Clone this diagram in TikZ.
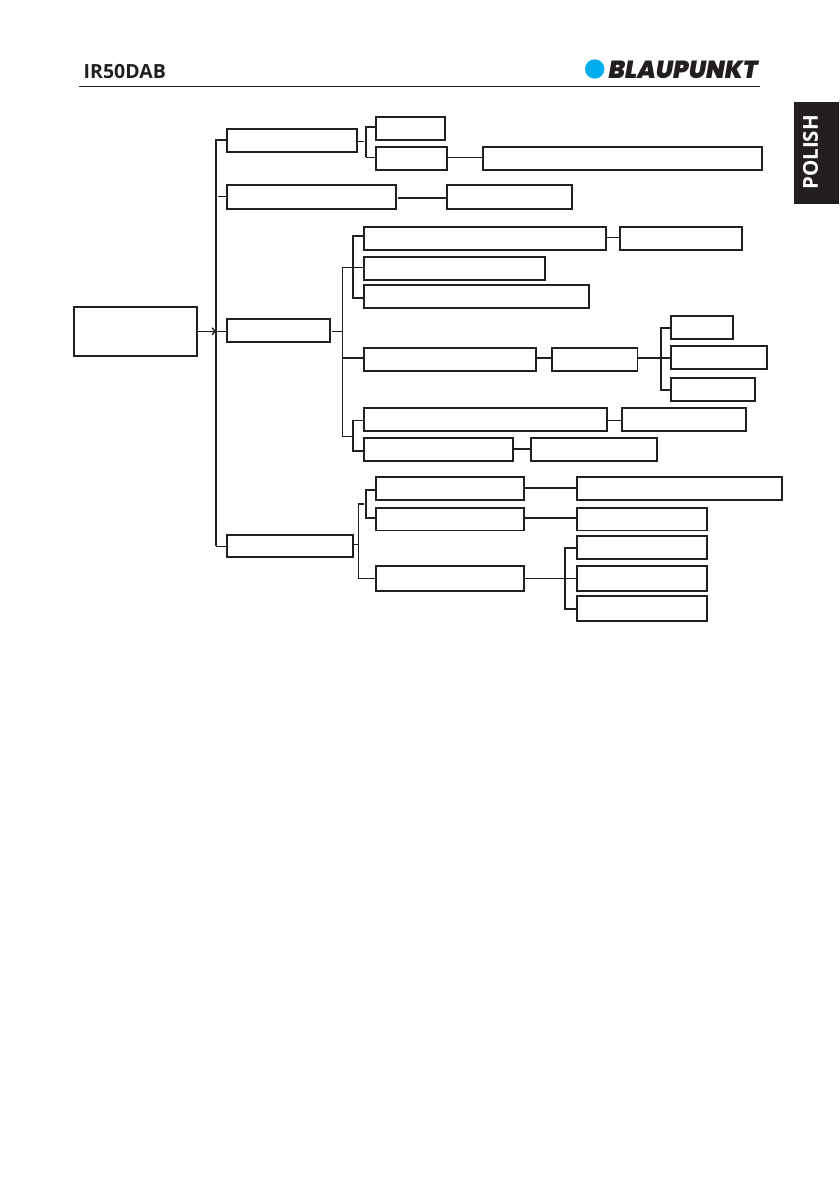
\documentclass[tikz,border=0pt]{standalone}
\usepackage{fontspec}
\setmainfont{Open Sans}
\newfontfamily\logofont{Poppins}[BoldItalicFont={Poppins Black Italic}]
\usetikzlibrary{arrows.meta}
\definecolor{ink}{HTML}{231F20}
\definecolor{logoblue}{HTML}{00AEEF}
\tikzset{
  thk/.style={line width=2pt,draw=ink,line cap=butt},
  mid/.style={line width=1.5pt,draw=ink},
  thn/.style={line width=1pt,draw=ink},
  bx/.style={draw=ink,line width=2pt,inner sep=0pt,outer sep=0pt,fill=white},
  bxl/.style={bx,line width=1.75pt},
}
% \boxn[style]{name}{x1}{y1}{x2}{y2} : centre-line corners, in reference pixels
\newcommand\boxn[6][bx]{\node[#1,minimum width={(#5-#3)*1pt},minimum height={(#6-#4)*1pt}] (#2) at ({(#3+#5)/2},{(#4+#6)/2}) {};}
\begin{document}
\begin{tikzpicture}[x=1pt,y=-1pt]
\useasboundingbox (0,0) rectangle (839,1191);
% header
\node[anchor=west,inner sep=0pt,font=\bfseries\fontsize{19.5}{19.5}\selectfont,text=ink] (model) at (83.5,72) {IR50DAB};
\coordinate (ruleL) at (79,86.3);
\coordinate (ruleR) at (760,86.3);
\draw[thn] (ruleL) -- (ruleR);
\fill[logoblue] (594.7,69) circle (9.7);
\node[anchor=west,inner sep=0pt,text=ink] (brand) at (608.5,69.5) {\resizebox{149pt}{17.5pt}{\logofont\bfseries\itshape BLAUPUNKT}};
\fill[ink] (794,102) rectangle (839,204);
\node[rotate=90,inner sep=0pt,text=white,font=\bfseries\fontsize{20.5}{20.5}\selectfont] (tab) at (810.5,152.5) {POLISH};
% boxes
\boxn{root}{74.3}{307.3}{197}{356}
\boxn{b1}{227.3}{129.3}{357}{151.5}
\boxn[bxl]{c1}{376.2}{117}{445.3}{139.8}
\boxn{c2}{376.2}{147.3}{447}{169.7}
\boxn{c3}{483.3}{147.3}{761.5}{169.7}
\boxn{b2}{227.3}{184.8}{396}{208.7}
\boxn{b2b}{447.3}{184.8}{572}{208.7}
\boxn{b3}{227.3}{319.3}{330}{342}
\boxn{d1}{364.3}{227.3}{605.5}{250}
\boxn{d1b}{620.3}{227.3}{742}{250}
\boxn{d2}{364.3}{257.3}{545}{279.7}
\boxn[bxl]{d3}{364.3}{285.3}{589}{308}
\boxn{d4}{364.3}{347.8}{536}{371}
\boxn[bxl]{d4b}{552.2}{347.8}{637.5}{371}
\boxn[bxl]{e1}{671.2}{315.8}{733.3}{339}
\boxn{e2}{671.2}{346.3}{767}{369}
\boxn{e3}{671.2}{378.3}{755}{401}
\boxn{d5}{364.3}{408.3}{607}{431}
\boxn{d5b}{621.8}{408.3}{746}{431}
\boxn{d6}{364.3}{438.3}{513}{461}
\boxn{d6b}{531.3}{438.3}{657}{461}
\boxn{b4}{227.3}{534.5}{353}{557}
\boxn{f1}{376.3}{477.3}{524}{500}
\boxn{f1b}{577.3}{477.3}{781.5}{500}
\boxn[bxl]{f2}{376.3}{507.7}{524}{530.5}
\boxn[bxl]{f2b}{577.3}{507.7}{707}{530.5}
\boxn{f3}{376.3}{566.3}{524}{591}
\boxn{g1}{577.3}{536.3}{707}{559}
\boxn{g2}{577.3}{566.3}{707}{591}
\boxn{g3}{577.3}{596.3}{707}{621}
% main trunk
\coordinate (tTop) at (216,139.5);
\coordinate (tBot) at (216,546);
\coordinate (tRoot) at (216,331.3);
\coordinate (tB2) at (218,196.3);
\draw[thk] (tTop -| b1.west) -- (tTop) -- (tBot);
\draw[thn] (tBot) -- (tBot -| b4.west);
\draw[thn] (tB2) -- (tB2 -| b2.west);
\draw[thn] (tRoot -| root.east) -- (tRoot);
\draw[line width=1.4pt,draw=ink,-{Straight Barb[length=3pt,width=7pt]}] (212,331.3) -- (tRoot);
\draw[thn] (tRoot) -- (tRoot -| b3.west);
% b1 group
\coordinate (s1) at (364,141.3);
\coordinate (r1t) at (366,127);
\coordinate (r1b) at (366,157.3);
\draw[thn] (s1 -| b1.east) -- (s1);
\draw[thk] (r1t -| c1.west) -- (r1t) -- (r1b);
\draw[thn] (r1b) -- (r1b -| c2.west);
\draw[thn] (r1b -| c2.east) -- (r1b -| c3.west);
% b2 group
\coordinate (l2) at (398,197.7);
\draw[thk] (l2) -- (l2 -| b2b.west);
% b3 group
\coordinate (s3) at (332,331.3);
\coordinate (v3) at (342.3,331.3);
\coordinate (v3t) at (342.3,267.3);
\coordinate (v3b) at (342.3,436.3);
\draw[thn] (s3) -- (v3);
\draw[thn] (v3t -| d2.west) -- (v3t) -- (v3b) -- (353,436.3);
\coordinate (rdt) at (353,235.7);
\coordinate (rdb) at (353,298);
\draw[thk] (rdt -| d1.west) -- (rdt) -- (rdb) -- (rdb -| d3.west);
\coordinate (l1) at (606,237.3);
\draw[thn] (l1) -- (l1 -| d1b.west);
% d4 group
\coordinate (l4) at (342.3,357.7);
\draw[thk] (l4) -- (l4 -| d4.west);
\draw[thk] (l4 -| d4.east) -- (l4 -| d4b.west);
\draw[thk] (l4 -| d4b.east) -- (l4 -| e2.west);
\coordinate (ret) at (660.7,327.7);
\coordinate (reb) at (660.7,389.7);
\draw[thk] (ret -| e1.west) -- (ret) -- (reb) -- (reb -| e3.west);
% d5, d6 group
\coordinate (r5t) at (352.7,420.3);
\coordinate (r5b) at (352.7,451);
\draw[thn] (r5t -| d5.west) -- (r5t);
\draw[thk] (r5t) -- (r5b) -- (r5b -| d6.west);
\draw[thn] (r5t -| d5.east) -- (r5t -| d5b.west);
\coordinate (l6) at (515,448.7);
\draw[thk] (l6 -| d6.east) -- (l6 -| d6b.west);
% b4 group
\coordinate (s4) at (358.3,544.7);
\coordinate (v4t) at (358.3,503.7);
\coordinate (v4b) at (358.3,578.3);
\draw[mid] (s4 -| b4.east) -- (s4);
\draw[thn] (v4t) -- (v4b) -- (v4b -| f3.west);
\draw[thk] (v4t) -- (363.7,503.7);
\coordinate (rft) at (365.7,489.7);
\coordinate (rfb) at (365.7,518);
\draw[thk] (rft -| f1.west) -- (rft) -- (rfb) -- (rfb -| f2.west);
\coordinate (lf1) at (525,487.7);
\draw[thk] (lf1 -| f1.east) -- (lf1 -| f1b.west);
\draw[thk] (rfb -| f2.east) -- (rfb -| f2b.west);
\draw[thn] (v4b -| f3.east) -- (v4b -| g2.west);
\coordinate (rgt) at (565,547.7);
\coordinate (rgb) at (565,608.7);
\draw[thk] (rgt -| g1.west) -- (rgt) -- (rgb) -- (rgb -| g3.west);
\end{tikzpicture}
\end{document}
